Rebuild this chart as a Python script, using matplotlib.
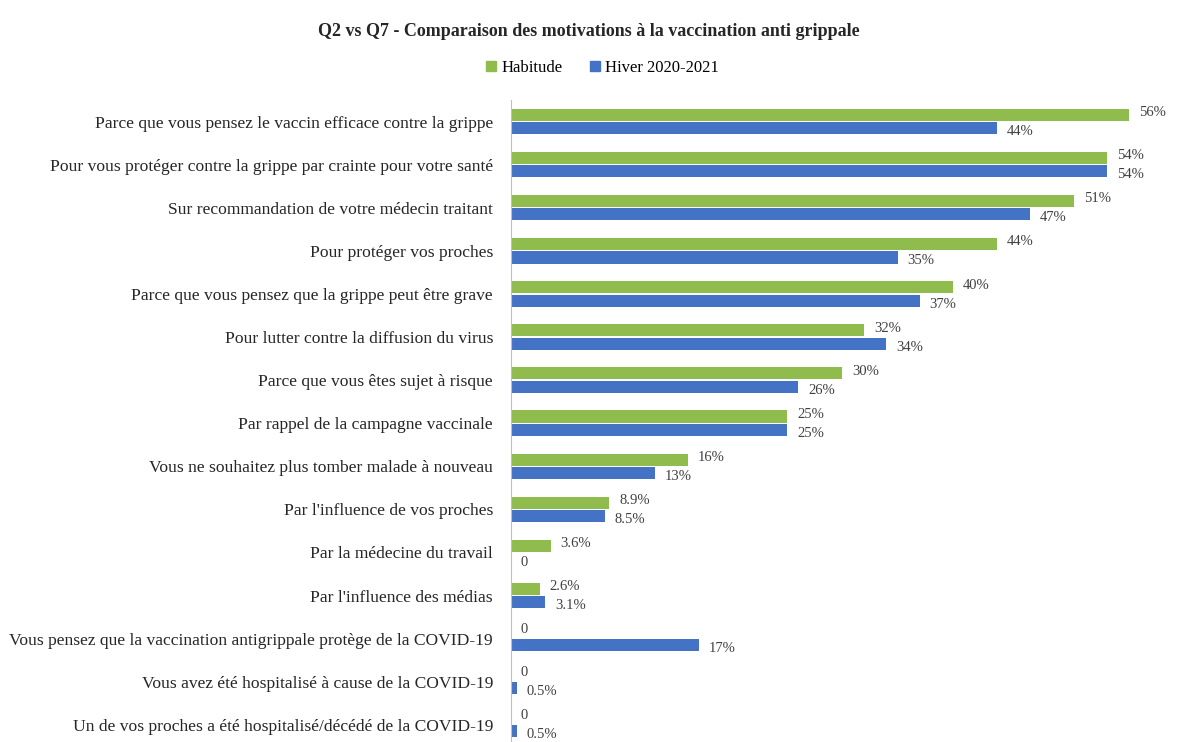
import matplotlib
matplotlib.use("Agg")
import matplotlib.pyplot as plt
from matplotlib.lines import Line2D

categories = [
    "Parce que vous pensez le vaccin efficace contre la grippe",
    "Pour vous protéger contre la grippe par crainte pour votre santé",
    "Sur recommandation de votre médecin traitant",
    "Pour protéger vos proches",
    "Parce que vous pensez que la grippe peut être grave",
    "Pour lutter contre la diffusion du virus",
    "Parce que vous êtes sujet à risque",
    "Par rappel de la campagne vaccinale",
    "Vous ne souhaitez plus tomber malade à nouveau",
    "Par l'influence de vos proches",
    "Par la médecine du travail",
    "Par l'influence des médias",
    "Vous pensez que la vaccination antigrippale protège de la COVID-19",
    "Vous avez été hospitalisé à cause de la COVID-19",
    "Un de vos proches a été hospitalisé/décédé de la COVID-19",
]
habitude = [56, 54, 51, 44, 40, 32, 30, 25, 16, 8.9, 3.6, 2.6, 0, 0, 0]
hiver = [44, 54, 47, 35, 37, 34, 26, 25, 13, 8.5, 0, 3.1, 17, 0.5, 0.5]
series_names = ["Habitude", "Hiver 2020-2021"]
title = "Q2 vs Q7 - Comparaison des motivations à la vaccination anti grippale"

green = "#8FBC4C"
blue = "#4472C4"
serif = ["Liberation Serif", "DejaVu Serif"]

def fmt(v):
    if v == 0:
        return "0"
    if v < 10 and v != int(v):
        return f"{v:.1f}%"
    return f"{v:.0f}%"

fig = plt.figure(figsize=(11.83, 7.42), dpi=100)
ax = fig.add_axes([0.432, 0.0, 0.56, 1 - 100 / 742])

n = len(categories)
ys = list(range(n))
h = 0.28
off = 0.155
ax.barh([y - off for y in ys], habitude, height=h, color=green)
ax.barh([y + off for y in ys], hiver, height=h, color=blue)

for y, v in zip(ys, habitude):
    ax.text(v + 0.9, y - off - 0.05, fmt(v), fontsize=10.5, family=serif,
            va="center", ha="left", color="#404040")
for y, v in zip(ys, hiver):
    ax.text(v + 0.9, y + off + 0.08, fmt(v), fontsize=10.5, family=serif,
            va="center", ha="left", color="#404040")

ax.set_xlim(0, 60)
ax.set_ylim(n - 0.6, -0.5)
ax.set_yticks(ys)
ax.set_yticklabels(categories, fontsize=12.6, family=serif, color="#262626")
ax.tick_params(axis="y", length=0, pad=13)
ax.set_xticks([])
for s in ["top", "right", "bottom"]:
    ax.spines[s].set_visible(False)
ax.spines["left"].set_color("#BFBFBF")

fig.text(0.498, 0.958, title, ha="center", va="center", fontsize=13,
         family=serif, fontweight="bold", color="#262626")

handles = [Line2D([], [], marker="s", linestyle="none", markersize=7, color=green),
           Line2D([], [], marker="s", linestyle="none", markersize=7, color=blue)]
fig.legend(handles, series_names, loc="center", bbox_to_anchor=(0.508, 0.908),
           ncol=2, frameon=False, prop={"family": serif, "size": 12},
           handletextpad=0.1, columnspacing=1.5, handlelength=1)

fig.savefig("out.png", dpi=100, facecolor="white")
